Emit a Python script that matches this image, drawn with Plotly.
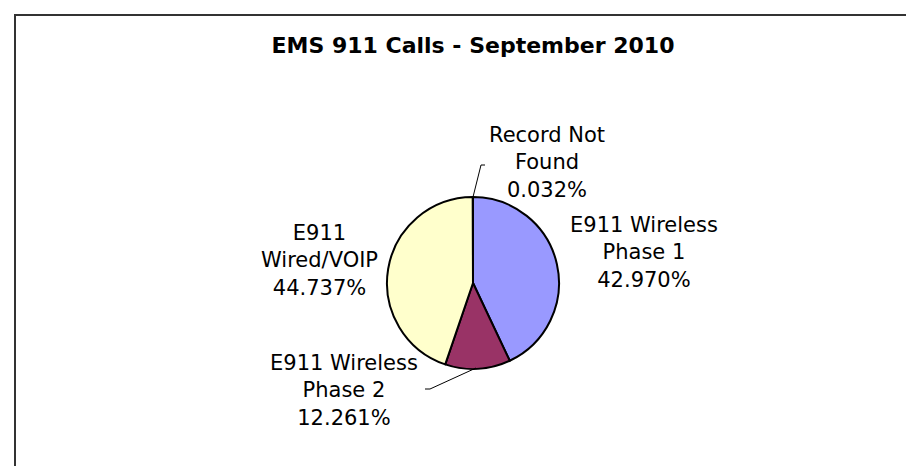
import plotly.graph_objects as go

W, H = 914, 466

title_text = "EMS 911 Calls - September 2010"
categories = ["E911 Wireless Phase 1", "E911 Wireless Phase 2", "E911 Wired/VOIP", "Record Not Found"]
label_lines = [["E911 Wireless", "Phase 1"], ["E911 Wireless", "Phase 2"], ["E911", "Wired/VOIP"], ["Record Not", "Found"]]
percent_values = [42.970, 12.261, 44.737, 0.032]
slice_colors = ["#9999FF", "#993366", "#FFFFCC", "#CCFFFF"]

# layout helpers (pixel -> paper)
def px(x):
    return x / W

def py(y):
    return 1 - y / H

cx, cy, r = 465, 275, 86

fig = go.Figure()
fig.add_trace(go.Pie(
    labels=categories,
    values=percent_values,
    sort=False,
    direction="clockwise",
    rotation=0,
    textinfo="none",
    hoverinfo="label+percent",
    marker=dict(colors=slice_colors, line=dict(color="#000000", width=2)),
    domain=dict(x=[px(cx - r), px(cx + r)], y=[py(cy + r), py(cy - r)]),
    showlegend=False,
))

# label positions (pixels, centre of text block)
label_pos = [(636, 244), (336, 382), (311, 252), (539, 155)]
font_lbl = dict(family="DejaVu Sans, Arial, sans-serif", size=21, color="#000000")
for lines, val, (lx, ly) in zip(label_lines, percent_values, label_pos):
    txt = "<br>".join(lines + [f"{val:.3f}%"])
    fig.add_annotation(text=txt, x=px(lx), y=py(ly), xref="paper", yref="paper",
                       showarrow=False, font=font_lbl, align="center",
                       xanchor="center", yanchor="middle")

# leader lines
leaders = [
    [(465, cy - r), (473, 157), (477, 157)],
    [(468, cy + r - 1), (422, 381), (417, 381)],
]
for pts in leaders:
    path = "M " + " L ".join(f"{px(x)},{py(y)}" for x, y in pts)
    fig.add_shape(type="path", path=path, xref="paper", yref="paper",
                  line=dict(color="#000000", width=1))

# outer frame (clipped at right/bottom like the reference)
fig.add_shape(type="rect", xref="paper", yref="paper",
              x0=px(7), y0=-0.2, x1=1.2, y1=py(7),
              line=dict(color="#333333", width=2), fillcolor="rgba(0,0,0,0)")

fig.update_layout(
    width=W, height=H,
    margin=dict(l=0, r=0, t=0, b=0),
    paper_bgcolor="#FFFFFF",
    plot_bgcolor="#FFFFFF",
    title=dict(text="<b>" + title_text + "</b>", x=px(465), y=py(37),
               xanchor="center", yanchor="middle",
               font=dict(family="DejaVu Sans, Arial, sans-serif", size=22, color="#000000")),
)

fig.write_html("out.html")
